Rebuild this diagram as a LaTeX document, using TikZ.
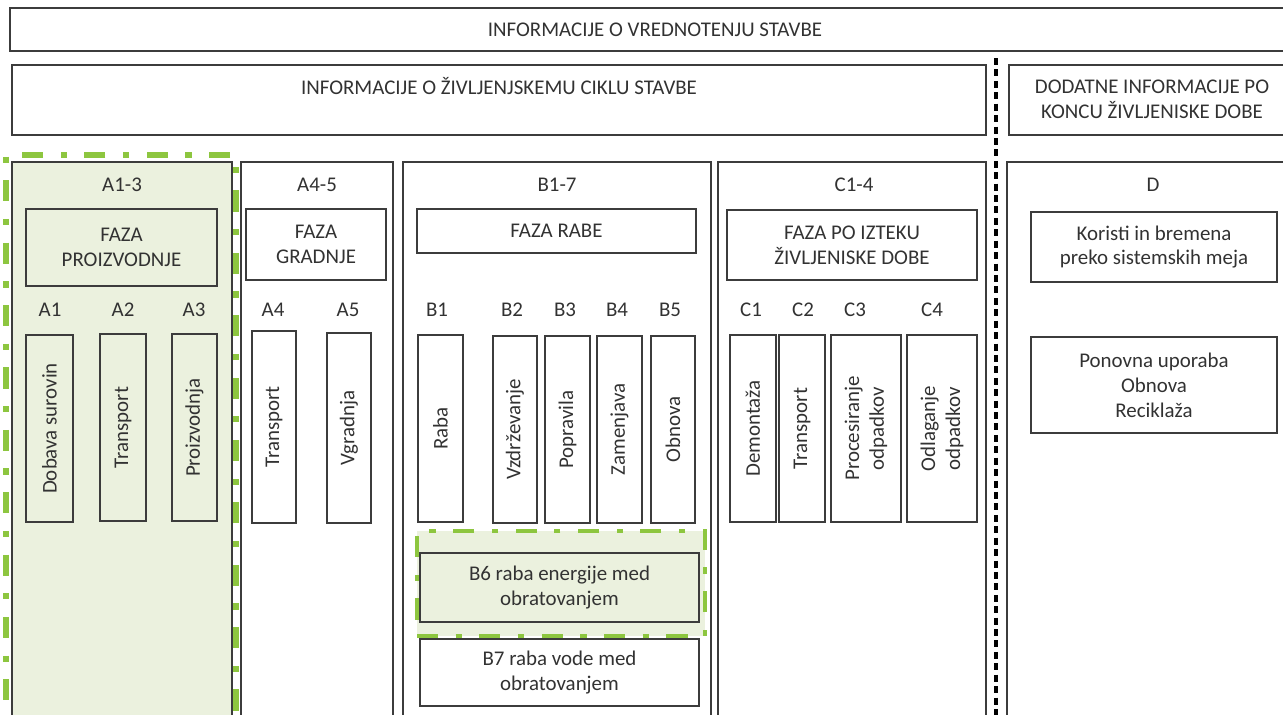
\documentclass[tikz,border=0pt]{standalone}
\usepackage{fontspec}
\setmainfont{Carlito}
\usetikzlibrary{fit}
\definecolor{lightgreen}{RGB}{235,241,222}
\definecolor{markgreen}{RGB}{141,198,63}
\definecolor{linegray}{RGB}{60,60,60}
\definecolor{textgray}{RGB}{50,50,50}

\begin{document}
\begin{tikzpicture}[x=0.02cm,y=-0.02cm,
  every node/.style={font=\fontsize{11.9}{14.2}\selectfont, text=textgray, align=center},
  box/.style={draw=linegray, line width=1.2pt, inner sep=0pt},
  greenbox/.style={box, fill=lightgreen},
  frame/.style={draw=markgreen, line width=3.2pt, inner sep=0pt, dash pattern=on 12pt off 10pt on 3.5pt off 10pt},
  divider/.style={draw=black, line width=1.8pt, dash pattern=on 4pt off 2.5pt},
  vtext/.style={rotate=90, inner sep=0pt}]
\useasboundingbox (0,0) rectangle (1283,714);
\clip (0,0) rectangle (1283,714);

\node[box, fit={(10,8) (1300,51)}] (valuation) {};
\node (valuationtxt) at (655,30) {INFORMACIJE O VREDNOTENJU STAVBE};
\node[box, fit={(12,65) (986,135)}] (lifecycle) {};
\node (lifecycletxt) at (499,86) {INFORMACIJE O ŽIVLJENJSKEMU CIKLU STAVBE};
\node[box, fit={(1009,65) (1300,135)}] (extra) {};
\node (extratxt) at (1152,99) {DODATNE INFORMACIJE PO\\KONCU ŽIVLJENISKE DOBE};
\coordinate (divtop) at (996,58);
\coordinate (divbot) at (996,730);
\draw[divider] (divtop) -- (divbot);

\node[greenbox, fit={(12,162) (232,730)}] (colprod) {};
\node[frame, fit={(6,155) (236,730)}] (hlprod) {};
\node[box, fit={(241,162) (393,730)}] (colbuild) {};
\node[box, fit={(403,162) (711,730)}] (coluse) {};
\node[box, fit={(718,162) (986,730)}] (colend) {};
\node[box, fit={(1007,162) (1300,730)}] (colbeyond) {};

\node (lblprod) at (122,185) {A1-3};
\node (lblbuild) at (317,185) {A4-5};
\node (lbluse) at (557,185) {B1-7};
\node (lblend) at (854,185) {C1-4};
\node (lblbeyond) at (1153,185) {D};

\node[greenbox, fit={(26,209) (217,286)}] (fazaprod) {};
\node (fazaprodtxt) at (fazaprod) {FAZA\\PROIZVODNJE};
\node[box, fit={(246,209) (386,280)}] (fazabuild) {};
\node (fazabuildtxt) at (fazabuild) {FAZA\\GRADNJE};
\node[box, fit={(417,209) (696,253)}] (fazause) {};
\node (fazausetxt) at (fazause) {FAZA RABE};
\node[box, fit={(727,210) (977,280)}] (fazaend) {};
\node (fazaendtxt) at (fazaend) {FAZA PO IZTEKU\\ŽIVLJENISKE DOBE};
\node[box, fit={(1031,212) (1277,282)}] (koristi) {};
\node (koristitxt) at (koristi) {Koristi in bremena\\preko sistemskih meja};
\node[box, fit={(1031,337) (1277,433)}] (ponovna) {};
\node (ponovnatxt) at (ponovna) {Ponovna uporaba\\Obnova\\Reciklaža};

\node (lbla1) at (50,310) {A1};
\node (lbla2) at (123,310) {A2};
\node (lbla3) at (194,310) {A3};
\node (lbla4) at (273,310) {A4};
\node (lbla5) at (348,310) {A5};
\node (lblb1) at (437,310) {B1};
\node (lblb2) at (512,310) {B2};
\node (lblb3) at (565,310) {B3};
\node (lblb4) at (617,310) {B4};
\node (lblb5) at (670,310) {B5};
\node (lblc1) at (751,310) {C1};
\node (lblc2) at (803,310) {C2};
\node (lblc3) at (855,310) {C3};
\node (lblc4) at (932,310) {C4};

\node[greenbox, fit={(26,335) (73,522)}] (a1) {};
\node[vtext] (a1t) at (a1) {Dobava surovin};
\node[greenbox, fit={(100,334) (146,521)}] (a2) {};
\node[vtext] (a2t) at (a2) {Transport};
\node[greenbox, fit={(172,334) (217,521)}] (a3) {};
\node[vtext] (a3t) at (a3) {Proizvodnja};
\node[box, fit={(252,331) (296,523)}] (a4) {};
\node[vtext] (a4t) at (a4) {Transport};
\node[box, fit={(327,333) (371,523)}] (a5) {};
\node[vtext] (a5t) at (a5) {Vgradnja};

\node[box, fit={(418,335) (463,522)}] (b1) {};
\node[vtext] (b1t) at (b1) {Raba};
\node[box, fit={(493,336) (537,523)}] (b2) {};
\node[vtext] (b2t) at (b2) {Vzdrževanje};
\node[box, fit={(545,336) (590,523)}] (b3) {};
\node[vtext] (b3t) at (b3) {Popravila};
\node[box, fit={(597,336) (642,523)}] (b4) {};
\node[vtext] (b4t) at (b4) {Zamenjava};
\node[box, fit={(651,336) (695,523)}] (b5) {};
\node[vtext] (b5t) at (b5) {Obnova};

\node[box, fit={(730,335) (776,522)}] (c1) {};
\node[vtext] (c1t) at (c1) {Demontaža};
\node[box, fit={(779,335) (825,522)}] (c2) {};
\node[vtext] (c2t) at (c2) {Transport};
\node[box, fit={(831,335) (901,522)}] (c3) {};
\node[vtext] (c3t) at (c3) {Procesiranje\\odpadkov};
\node[box, fit={(907,335) (977,522)}] (c4) {};
\node[vtext] (c4t) at (c4) {Odlaganje\\odpadkov};

\node[box, fit={(420,639) (699,706)}] (b7) {};
\node (b7t) at (b7) {B7 raba vode med\\obratovanjem};
\node[frame, fill=lightgreen, line width=2.8pt, fit={(417,531) (705,636)}] (hluse) {};
\node[greenbox, fit={(420,553) (699,622)}] (b6) {};
\node (b6t) at (b6) {B6 raba energije med\\obratovanjem};
\end{tikzpicture}
\end{document}
